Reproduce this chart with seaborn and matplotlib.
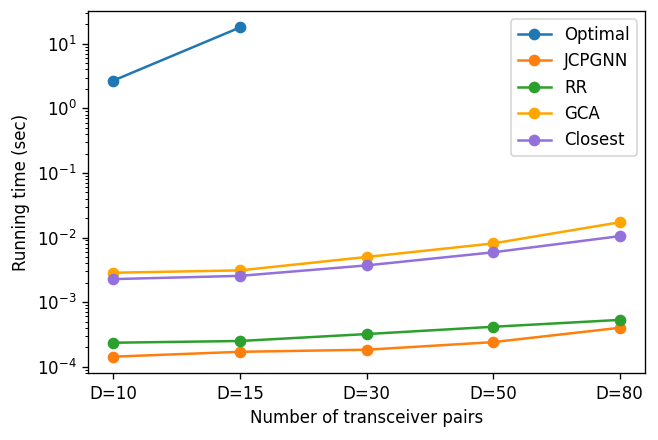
import matplotlib
matplotlib.use("Agg")
import matplotlib.pyplot as plt
import seaborn as sns
import pandas as pd

categories = ["D=10", "D=15", "D=30", "D=50", "D=80"]
optimal = [2.7, 17.9]
jcpgnn = [1.43e-4, 1.7e-4, 1.83e-4, 2.4e-4, 4.0e-4]
rr = [2.35e-4, 2.5e-4, 3.2e-4, 4.15e-4, 5.3e-4]
gca = [2.85e-3, 3.1e-3, 5.0e-3, 8.1e-3, 1.72e-2]
closest = [2.27e-3, 2.55e-3, 3.7e-3, 5.9e-3, 1.05e-2]

series = [("Optimal", optimal, "#1f77b4"),
          ("JCPGNN", jcpgnn, "#ff7f0e"),
          ("RR", rr, "#2ca02c"),
          ("GCA", gca, "#ffa500"),
          ("Closest", closest, "#9370db")]

rows = []
for name, vals, _ in series:
    for i, v in enumerate(vals):
        rows.append({"x": i, "time": v, "method": name})
df = pd.DataFrame(rows)

fig, ax = plt.subplots(figsize=(658 / 120, 440 / 120), dpi=120)
for name, vals, c in series:
    sub = df[df.method == name]
    sns.lineplot(data=sub, x="x", y="time", ax=ax, color=c, marker="o",
                 markersize=6, markeredgewidth=1, markeredgecolor=c,
                 label=name, linewidth=1.5)
ax.set_yscale("log")
ax.set_xticks(range(len(categories)))
ax.set_xticklabels(categories)
ax.set_xlabel("Number of transceiver pairs")
ax.set_ylabel("Running time (sec)")
ax.legend(loc="upper right")
fig.subplots_adjust(left=0.134, right=0.980, top=0.975, bottom=0.152)
fig.savefig("out.png")
